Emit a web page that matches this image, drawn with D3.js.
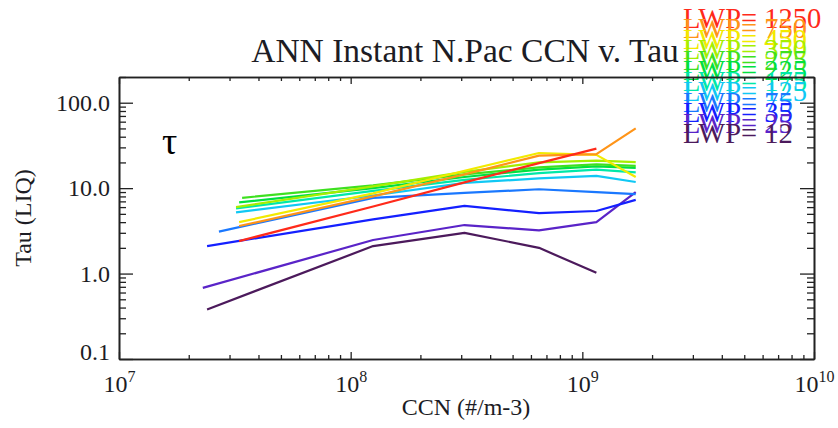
<!DOCTYPE html>
<html>
<head>
<meta charset="utf-8">
<script src="https://cdn.jsdelivr.net/npm/d3@7"></script>
<style>
  body { margin: 0; background: #fff; }
  text { font-family: "Liberation Serif", "Times New Roman", serif; }
</style>
</head>
<body>
<svg id="chart" width="838" height="428"></svg>
<script>
// LWP classes, top of legend to bottom
const lwpLevels = [1250, 750, 450, 350, 275, 225, 175, 125, 75, 35, 25, 12];

// first CCN point of every line (each one starts a bit differently)
const ccnStart = [3.3e7, 3.3e7, 3.3e7, 3.2e7, 3.4e7, 3.3e7, 3.2e7, 3.2e7, 2.7e7, 2.4e7, 2.3e7, 2.4e7];
const tauStart = [2.4, 3.6, 4.0, 6.0, 7.7, 6.8, 5.8, 5.2, 3.1, 2.1, 0.68, 0.38];

// the shared CCN bins after that
const ccnBins = [1.25e8, 3.1e8, 6.5e8, 1.15e9, 1.7e9];
const tauBins = [
  [6.1, 11.7, 19.6, 29, null],     // 1250
  [8.0, 14.5, 24, 25, 50],         // 750
  [8.7, 16, 25.8, 24.5, 13.5],     // 450
  [10.5, 15.5, 20, 21, 20.2],      // 350
  [10.8, 14.5, 17.5, 19, 18.2],    // 275
  [10, 13.5, 16.5, 18, 17.3],      // 225
  [9.3, 12.5, 15, 16.5, 15.3],     // 175
  [8.2, 11.5, 13, 13.9, 11.8],     // 125
  [7.7, 8.8, 9.7, 9.0, 8.5],       // 75
  [4.3, 6.2, 5.1, 5.4, 7.3],       // 35
  [2.47, 3.7, 3.2, 4.0, 9.0],      // 25
  [2.1, 3.0, 2.0, 1.02, null]      // 12
];

const lineColors = ["#ff2a1a", "#ff9418", "#f2ea00", "#a6ee00", "#3ee020", "#00e040",
  "#00e8a8", "#10c8f4", "#1a78ff", "#1420ff", "#5a24c8", "#4c1a5c"];

// tick values
const xMajor = [1e7, 1e8, 1e9, 1e10];
const yMajor = [0.1, 1, 10, 100];

let width = 838, height = 428,
  mLeft = 119, mRight = 814, mTop = 77, mBottom = 359;

let svg = d3.select("#chart");

let xScale = d3.scaleLog().domain([1e7, 1e10]).range([mLeft, mRight]);
let yScale = d3.scaleLog().domain([0.1, 200]).range([mBottom, mTop]);

// minor ticks 2..9 inside every decade
let xMinor = [];
for (let e = 7; e < 10; e++) for (let k = 2; k < 10; k++) xMinor.push(k * Math.pow(10, e));
let yMinor = [];
for (let e = -1; e < 3; e++) for (let k = 2; k < 10; k++) {
  let v = k * Math.pow(10, e);
  if (v <= 200) yMinor.push(v);
}

// title
svg.append("text")
  .attr("x", 465)
  .attr("y", 62)
  .attr("text-anchor", "middle")
  .attr("font-size", 33.5)
  .attr("fill", "#1c1c24")
  .text("ANN Instant N.Pac CCN v. Tau");

// lines, low LWP first so the red one ends on top
let line = d3.line()
  .defined(d => d[1] != null)
  .x(d => xScale(d[0]))
  .y(d => yScale(d[1]));

let series = lwpLevels.map((lwp, i) => {
  let pts = [[ccnStart[i], tauStart[i]]];
  ccnBins.forEach((c, j) => pts.push([c, tauBins[i][j]]));
  return { lwp: lwp, color: lineColors[i], pts: pts };
});

svg.append("g")
  .selectAll("path")
  .data(series.slice().reverse())
  .enter()
  .append("path")
  .attr("d", d => line(d.pts))
  .attr("fill", "none")
  .attr("stroke", d => d.color)
  .attr("stroke-width", 2.2)
  .attr("stroke-linejoin", "round");

// tau symbol
svg.append("text")
  .attr("x", 162)
  .attr("y", 154)
  .attr("font-size", 38)
  .attr("fill", "#000")
  .text("τ");

// legend, stacked tight so the entries overlap
svg.append("g")
  .selectAll("text")
  .data(series)
  .enter()
  .append("text")
  .attr("x", 683)
  .attr("y", (d, i) => 28 + i * 10.45)
  .attr("font-size", 28.5)
  .attr("fill", d => d.color)
  .text(d => "LWP= " + d.lwp);

// axes
function styleAxis(g) {
  g.select(".domain").attr("stroke", "#222").attr("stroke-width", 1.6);
  g.selectAll(".tick line").attr("stroke", "#222").attr("stroke-width", 1.3);
}

// bottom, labelled
let xAxisBottom = svg.append("g")
  .attr("transform", "translate(0," + mBottom + ")")
  .call(d3.axisBottom(xScale).tickValues(xMajor).tickSize(-7).tickSizeOuter(0).tickFormat(""));
styleAxis(xAxisBottom);
xAxisBottom.selectAll(".tick").append("text")
  .attr("y", 33)
  .attr("fill", "#1c1c24")
  .attr("font-size", 24)
  .attr("text-anchor", "middle")
  .each(function (d) {
    let t = d3.select(this);
    t.append("tspan").text("10");
    t.append("tspan").attr("font-size", 16).attr("dy", -10).text(Math.round(Math.log10(d)));
  });
svg.append("g")
  .attr("transform", "translate(0," + mBottom + ")")
  .call(d3.axisBottom(xScale).tickValues(xMinor).tickSize(-4).tickSizeOuter(0).tickFormat(""))
  .call(styleAxis);

// top
svg.append("g")
  .attr("transform", "translate(0," + mTop + ")")
  .call(d3.axisTop(xScale).tickValues(xMajor).tickSize(-7).tickSizeOuter(0).tickFormat(""))
  .call(styleAxis);
svg.append("g")
  .attr("transform", "translate(0," + mTop + ")")
  .call(d3.axisTop(xScale).tickValues(xMinor).tickSize(-4).tickSizeOuter(0).tickFormat(""))
  .call(styleAxis);

// left, labelled
let yAxisLeft = svg.append("g")
  .attr("transform", "translate(" + mLeft + ",0)")
  .call(d3.axisLeft(yScale).tickValues(yMajor).tickSize(-14).tickSizeOuter(0).tickPadding(9)
    .tickFormat(d3.format(".1f")));
styleAxis(yAxisLeft);
yAxisLeft.selectAll(".tick text")
  .attr("font-size", 24)
  .attr("fill", "#1c1c24")
  .attr("x", -9)
  .attr("dy", (d) => d === 0.1 ? "-0.0em" : "0.32em");
svg.append("g")
  .attr("transform", "translate(" + mLeft + ",0)")
  .call(d3.axisLeft(yScale).tickValues(yMinor).tickSize(-7).tickSizeOuter(0).tickFormat(""))
  .call(styleAxis);

// right
svg.append("g")
  .attr("transform", "translate(" + mRight + ",0)")
  .call(d3.axisRight(yScale).tickValues(yMajor).tickSize(-14).tickSizeOuter(0).tickFormat(""))
  .call(styleAxis);
svg.append("g")
  .attr("transform", "translate(" + mRight + ",0)")
  .call(d3.axisRight(yScale).tickValues(yMinor).tickSize(-7).tickSizeOuter(0).tickFormat(""))
  .call(styleAxis);

// axis titles
svg.append("text")
  .attr("x", 466)
  .attr("y", 415)
  .attr("text-anchor", "middle")
  .attr("font-size", 24)
  .attr("fill", "#1c1c24")
  .text("CCN (#/m-3)");

svg.append("text")
  .attr("transform", "translate(31," + (mTop + mBottom) / 2 + ") rotate(-90)")
  .attr("text-anchor", "middle")
  .attr("font-size", 24)
  .attr("fill", "#1c1c24")
  .text("Tau (LIQ)");
</script>
</body>
</html>
